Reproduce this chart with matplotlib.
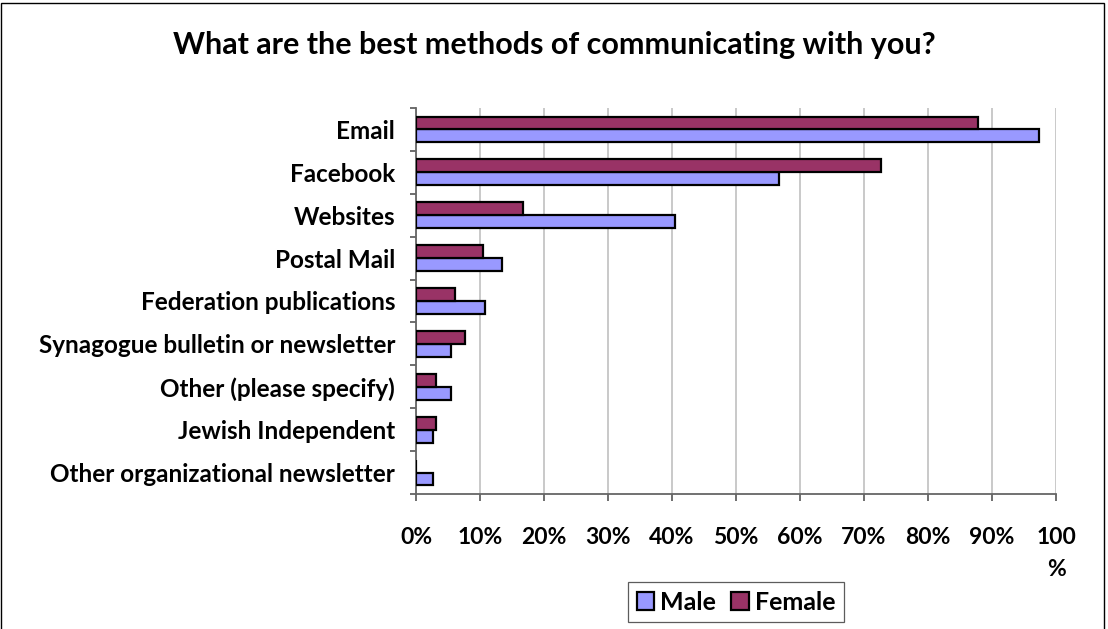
import matplotlib
matplotlib.use("Agg")
import matplotlib.pyplot as plt
import numpy as np
from matplotlib.patches import Rectangle

plt.rcParams['font.family'] = ['Lato', 'DejaVu Sans']

categories = ["Email", "Facebook", "Websites", "Postal Mail", "Federation publications",
              "Synagogue bulletin or newsletter", "Other (please specify)",
              "Jewish Independent", "Other organizational newsletter"]
male = [97.3, 56.7, 40.5, 13.5, 10.8, 5.4, 5.4, 2.7, 2.7]
female = [87.8, 72.7, 16.7, 10.5, 6.1, 7.6, 3.1, 3.1, 0.0]
xticks = [0, 10, 20, 30, 40, 50, 60, 70, 80, 90, 100]
xtick_labels = ["0%", "10%", "20%", "30%", "40%", "50%", "60%", "70%", "80%", "90%", "100\n%"]
title = "What are the best methods of communicating with you?"

male_color = "#9999FF"
female_color = "#993366"

fig = plt.figure(figsize=(11.08, 6.29), dpi=100)
ax = fig.add_axes([416/1108, 1-494/629, 640/1108, 386/629])

y = np.arange(len(categories))
h = 0.3
ax.barh(y + h/2, male, height=h, color=male_color, edgecolor="black", linewidth=1.6, label="Male", zorder=3)
ax.barh(y - h/2, female, height=h, color=female_color, edgecolor="black", linewidth=1.6, label="Female", zorder=3)

ax.set_xlim(0, 100)
ax.set_ylim(len(categories) - 0.5, -0.5)
ax.set_xticks(xticks)
ax.set_xticklabels(xtick_labels, fontsize=16.5, fontweight="bold", va="top", linespacing=1.65)
ax.set_yticks(y)
ax.set_yticklabels(categories, fontsize=17.5, fontweight="bold")
ax.set_yticks(np.arange(len(categories) + 1) - 0.5, minor=True)
ax.tick_params(axis="y", which="major", length=0, pad=15)
ax.tick_params(axis="y", which="minor", length=4, width=1.2, direction="out", color="#555555")
ax.tick_params(axis="x", which="major", length=5, width=1.2, direction="out", pad=19, color="#555555")

ax.grid(axis="x", color="#C0C0C0", linewidth=1.2, zorder=0)
for s in ["top", "right"]:
    ax.spines[s].set_visible(False)
ax.spines["left"].set_color("#666666")
ax.spines["bottom"].set_color("#666666")
ax.spines["left"].set_linewidth(1.3)
ax.spines["bottom"].set_linewidth(1.3)

fig.text(0.5, 1-45/629, title, ha="center", va="center", fontsize=22, fontweight="bold")

handles, labels = ax.get_legend_handles_labels()
leg = fig.legend(handles, labels, loc="center", bbox_to_anchor=(736/1108, 1-602/629),
                 ncol=2, frameon=True, fancybox=False, edgecolor="#333333",
                 prop={"weight": "bold", "size": 18}, handlelength=0.7, handleheight=0.7,
                 handletextpad=0.25, columnspacing=0.6, borderpad=0.35)
leg.get_frame().set_linewidth(0.9)

fig.add_artist(Rectangle((1/1108, -0.01), 1103/1108, 1.01 - 3/629, transform=fig.transFigure,
                         fill=False, edgecolor="black", linewidth=1))

fig.savefig("out.png", dpi=100)
